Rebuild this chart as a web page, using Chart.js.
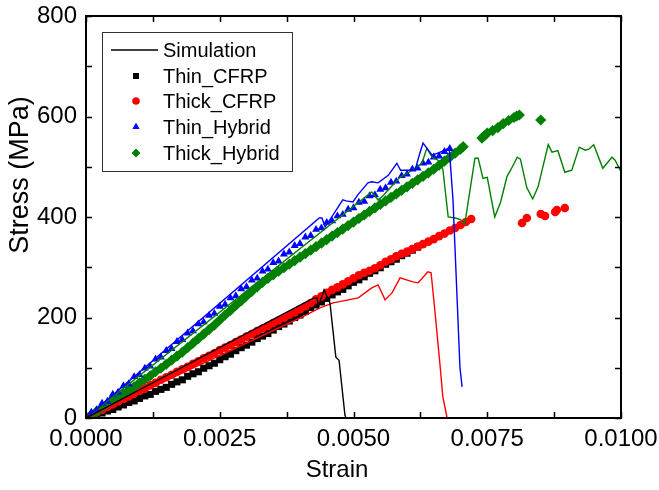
<!DOCTYPE html>
<html>
<head>
<meta charset="utf-8">
<script src="https://cdn.jsdelivr.net/npm/chart.js@4.4.1/dist/chart.umd.min.js"></script>
<style>
  body { margin: 0; background: #fff; }
</style>
</head>
<body>
<canvas id="chart" width="659" height="490"></canvas>
<script>
// axis ticks
const xTicks = [0.0000, 0.0025, 0.0050, 0.0075, 0.0100];
const yTicks = [0, 200, 400, 600, 800];
const legendNames = ["Simulation", "Thin_CFRP", "Thick_CFRP", "Thin_Hybrid", "Thick_Hybrid"];

// simulation curves [strain, stress]
const simThinCfrp = [[0,0],[0.00424,238],[0.00432,239],[0.00434,221],[0.00445,255],[0.00456,229],
  [0.00467,121],[0.00473,115],[0.00484,6],[0.00486,0]];
const simThickCfrp = [[0,0],[0.0040,199],[0.00437,219],[0.00462,229],[0.00509,239],[0.00534,259],
  [0.00546,265],[0.00559,235],[0.00572,249],[0.00587,279],[0.00611,271],[0.00621,269],[0.00639,291],
  [0.00645,289],[0.00652,215],[0.00662,102],[0.00667,42],[0.00675,0]];
const simThinHybrid = [[0,0],[0.00436,398],[0.00441,398],[0.00447,380],[0.0048,434],[0.00486,432],
  [0.00499,430],[0.00508,444],[0.00527,468],[0.00534,470],[0.00546,468],[0.00565,483],[0.00581,507],
  [0.00588,493],[0.00615,493],[0.00624,527],[0.0063,547],[0.00637,537],[0.00647,523],[0.00660,528],
  [0.00679,537],[0.00686,434],[0.00699,100],[0.00703,62]];
const simThickHybrid = [[0,0],[0.00534,450],[0.00546,434],[0.00553,440],[0.00572,462],[0.00587,479],
  [0.00605,490],[0.00628,507],[0.00637,537],[0.00647,519],[0.00658,513],[0.00667,495],[0.00677,400],
  [0.0069,398],[0.0070,395],[0.00708,386],[0.00727,517],[0.00733,517],[0.00742,477],[0.0075,479],
  [0.00764,400],[0.00775,430],[0.00787,481],[0.00797,500],[0.00806,519],[0.00812,515],[0.00824,458],
  [0.00835,436],[0.00845,460],[0.00864,544],[0.00871,529],[0.00882,532],[0.00895,489],[0.00908,493],
  [0.00922,539],[0.00933,533],[0.0094,535],[0.00949,544],[0.00966,497],[0.00983,519],[0.00989,513],
  [0.0100,490]];

// experiments [strain, stress]
const expThinCfrp = [[0,0],[0.0001,3],[0.0002,7],[0.0003,10],[0.0004,14],[0.0005,17],[0.0006,22],[0.0007,26],
  [0.0008,31],[0.0009,34],[0.0010,39],[0.0011,44],[0.0012,47],[0.0013,53],[0.0014,57],[0.0015,61],
  [0.0016,67],[0.0017,72],[0.0018,76],[0.0019,83],[0.0020,88],[0.0021,92],[0.0022,99],[0.0023,104],
  [0.0024,109],[0.0025,116],[0.0026,122],[0.0027,127],[0.0028,134],[0.0029,140],[0.0030,145],
  [0.0031,151],[0.0032,158],[0.0033,163],[0.0034,168],[0.0035,175],[0.0036,182],[0.0037,187],
  [0.0038,193],[0.0039,200],[0.0040,205],[0.0041,212],[0.0042,220],[0.0043,225],[0.0044,231],
  [0.0045,238],[0.0046,245],[0.0047,251],[0.0048,256],[0.0049,263],[0.0050,270],[0.0051,275],
  [0.0052,281],[0.0053,288],[0.0054,293],[0.0055,299],[0.0056,306],[0.0057,311],[0.0058,316],
  [0.0059,323],[0.0060,328],[0.0061,334],[0.0062,340]];
const expThickCfrp = [[0,0],[0.0001,5],[0.0002,11],[0.0003,16],[0.0004,22],[0.0005,27],[0.0006,33],[0.0007,38],
  [0.0008,43],[0.0009,49],[0.0010,54],[0.0011,59],[0.0012,65],[0.0013,70],[0.0014,76],[0.0015,81],
  [0.0016,86],[0.0017,92],[0.0018,97],[0.0019,102],[0.0020,108],[0.0021,113],[0.0022,119],[0.0023,124],
  [0.0024,129],[0.0025,135],[0.0026,140],[0.0027,145],[0.0028,151],[0.0029,156],[0.0030,162],
  [0.0031,167],[0.0032,173],[0.0033,178],[0.0034,183],[0.0035,189],[0.0036,194],[0.0037,199],
  [0.0038,205],[0.0039,210],[0.0040,216],[0.0041,222],[0.0042,229],[0.0043,236],[0.0044,242],
  [0.0045,249],[0.0046,255],[0.0047,260],[0.0048,266],[0.0049,272],[0.0050,278],[0.0051,284],
  [0.0052,289],[0.0053,293],[0.0054,298],[0.0055,304],[0.0056,311],[0.0057,316],[0.0058,322],
  [0.0059,327],[0.0060,331],[0.0061,336],[0.0062,341],[0.0063,346],[0.0064,351],[0.0065,356],
  [0.0066,362],[0.0067,367],[0.0068,373],[0.0069,378],[0.0070,384],[0.0071,390],[0.0072,396],
  [0.00815,388],[0.00824,398],[0.0085,406],[0.00858,402],[0.00877,410],[0.0088,414],[0.00895,418]];
const expThinHybrid = [[0,0],[0.0001,11],[0.0002,16],[0.0003,29],[0.0004,33],[0.0005,47],[0.0006,51],[0.0007,64],
  [0.0008,68],[0.0009,82],[0.0010,86],[0.0011,99],[0.0012,103],[0.0013,117],[0.0014,121],[0.0015,134],
  [0.0016,138],[0.0017,152],[0.0018,156],[0.0019,169],[0.0020,173],[0.0021,187],[0.0022,191],
  [0.0023,204],[0.0024,208],[0.0025,222],[0.0026,226],[0.0027,239],[0.0028,243],[0.0029,257],
  [0.0030,261],[0.0031,274],[0.0032,278],[0.0033,292],[0.0034,296],[0.0035,309],[0.0036,312],
  [0.0037,326],[0.0038,330],[0.0039,343],[0.0040,347],[0.0041,360],[0.0042,363],[0.0043,375],
  [0.0044,378],[0.0045,389],[0.0046,392],[0.0047,402],[0.0048,405],[0.0049,415],[0.0050,418],
  [0.0051,429],[0.0052,431],[0.0053,442],[0.0054,444],[0.0055,455],[0.0056,458],[0.0057,469],
  [0.0058,471],[0.0059,482],[0.0060,485],[0.0061,495],[0.0062,497],[0.0063,507],[0.0064,509],
  [0.0065,519],[0.0066,521],[0.0067,530],[0.0068,536]];
const expThickHybrid = [[0,0],[0.0001,6],[0.0002,13],[0.0003,20],[0.0004,27],[0.0005,34],[0.0006,41],[0.0007,48],
  [0.0008,55],[0.0009,62],[0.0010,70],[0.0011,77],[0.0012,84],[0.0013,92],[0.0014,99],[0.0015,107],
  [0.0016,115],[0.0017,123],[0.0018,131],[0.0019,140],[0.0020,149],[0.0021,158],[0.0022,167],
  [0.0023,176],[0.0024,185],[0.0025,195],[0.0026,205],[0.0027,214],[0.0028,224],[0.0029,233],
  [0.0030,243],[0.0031,252],[0.0032,261],[0.0033,270],[0.0034,278],[0.0035,285],[0.0036,292],
  [0.0037,299],[0.0038,306],[0.0039,313],[0.0040,320],[0.0041,327],[0.0042,334],[0.0043,341],
  [0.0044,348],[0.0045,355],[0.0046,362],[0.0047,369],[0.0048,376],[0.0049,383],[0.0050,390],
  [0.0051,397],[0.0052,404],[0.0053,411],[0.0054,418],[0.0055,425],[0.0056,432],[0.0057,439],
  [0.0058,446],[0.0059,453],[0.0060,460],[0.0061,467],[0.0062,474],[0.0063,481],[0.0064,488],
  [0.0065,495],[0.0066,503],[0.0067,511],[0.0068,519],[0.0069,527],[0.0070,535],[0.00705,540],
  [0.0074,557],[0.00745,562],[0.0075,567],[0.0076,572],[0.0077,578],[0.0078,586],[0.0079,592],
  [0.0080,598],[0.00805,601],[0.0081,603],[0.0085,593]];

const FONT = "'Liberation Sans', Arial, sans-serif";
const toXY = arr => arr.map(p => ({x: p[0], y: p[1]}));

function simLine(pts, color, order) {
  return {label: "sim", data: toXY(pts), showLine: true, borderColor: color, borderWidth: 1.4,
    pointRadius: 0, fill: false, tension: 0, order: order};
}
function markers(name, pts, color, style, r, order) {
  return {label: name, data: toXY(pts), showLine: false, pointStyle: style, pointRadius: r,
    backgroundColor: color, borderColor: color, borderWidth: 0, order: order};
}

const datasets = [
  simLine(simThinCfrp, "#000000", 1),
  simLine(simThickCfrp, "#ff0000", 1),
  simLine(simThinHybrid, "#0000ff", 1),
  simLine(simThickHybrid, "#008000", 1),
  markers(legendNames[1], expThinCfrp, "#000000", "rect", 5, 6),
  markers(legendNames[2], expThickCfrp, "#ff0000", "circle", 4.3, 5),
  markers(legendNames[3], expThinHybrid, "#0000ff", "triangle", 4.6, 3),
  markers(legendNames[4], expThickHybrid, "#008000", "rectRot", 5.6, 4)
];
// marker sizes in the legend box
const legendRadius = [0, 4, 3.6, 4, 4.2];

// box, inward ticks, legend and axis titles
const decor = {
  id: "decor",
  afterDraw(chart) {
    const ctx = chart.ctx, a = chart.chartArea;
    const xs = chart.scales.x, ys = chart.scales.y;
    ctx.save();
    ctx.strokeStyle = "#000";
    ctx.lineWidth = 1.5;
    for (let v = 0; v <= 0.01 + 1e-9; v += 0.00125) {
      const px = Math.round(xs.getPixelForValue(v)) + 0.5;
      ctx.beginPath();
      ctx.moveTo(px, a.bottom); ctx.lineTo(px, a.bottom - 6);
      ctx.moveTo(px, a.top); ctx.lineTo(px, a.top + 6);
      ctx.stroke();
    }
    for (let v = 0; v <= 800; v += 100) {
      const py = Math.round(ys.getPixelForValue(v)) + 0.5;
      ctx.beginPath();
      ctx.moveTo(a.left, py); ctx.lineTo(a.left + 6, py);
      ctx.moveTo(a.right, py); ctx.lineTo(a.right - 6, py);
      ctx.stroke();
    }
    ctx.lineWidth = 2;
    ctx.strokeRect(a.left, a.top, a.right - a.left, a.bottom - a.top);

    // legend
    ctx.fillStyle = "#fff";
    ctx.fillRect(102, 32, 191, 140);
    ctx.lineWidth = 1;
    ctx.strokeStyle = "#333";
    ctx.strokeRect(102.5, 32.5, 190, 139);
    const rows = [50, 76, 101, 127, 153];
    ctx.strokeStyle = "#000";
    ctx.lineWidth = 1.4;
    ctx.beginPath();
    ctx.moveTo(111, rows[0]); ctx.lineTo(158, rows[0]);
    ctx.stroke();
    for (let i = 1; i < 5; i++) {
      const d = datasets[i + 3];
      ctx.fillStyle = d.backgroundColor;
      Chart.helpers.drawPoint(ctx, {pointStyle: d.pointStyle, radius: legendRadius[i], borderWidth: 0}, 136, rows[i]);
      ctx.fill();
    }
    ctx.fillStyle = "#000";
    ctx.font = "20px " + FONT;
    ctx.textAlign = "left";
    ctx.textBaseline = "middle";
    legendNames.forEach((n, i) => ctx.fillText(n, 163, rows[i] + 1));

    // axis titles
    ctx.font = "24px " + FONT;
    ctx.textAlign = "center";
    ctx.fillText("Strain", 337, 470);
    ctx.font = "27px " + FONT;
    ctx.translate(21, 175);
    ctx.rotate(-Math.PI / 2);
    ctx.fillText("Stress (MPa)", 0, 0);
    ctx.restore();
  }
};

new Chart(document.getElementById("chart").getContext("2d"), {
  type: "scatter",
  data: {datasets: datasets},
  options: {
    responsive: false,
    animation: false,
    devicePixelRatio: 1,
    layout: {padding: {top: 16, right: 38, left: 0, bottom: 0}},
    plugins: {legend: {display: false}, tooltip: {enabled: false}},
    scales: {
      x: {
        type: "linear", min: 0, max: 0.01,
        grid: {display: false, drawTicks: false},
        border: {display: false},
        afterFit: s => { s.height = 72; s.paddingLeft = 0; s.paddingRight = 0; },
        ticks: {
          stepSize: 0.00125, autoSkip: false, maxRotation: 0, padding: 7,
          color: "#000", font: {size: 24, family: FONT},
          callback: v => {
            const t = xTicks.find(k => Math.abs(k - v) < 1e-7);
            return t === undefined ? "" : t.toFixed(4);
          }
        }
      },
      y: {
        type: "linear", min: 0, max: 800,
        grid: {display: false, drawTicks: false},
        border: {display: false},
        afterFit: s => { s.width = 86; s.paddingTop = 0; s.paddingBottom = 0; },
        ticks: {
          stepSize: 100, autoSkip: false, padding: 9,
          color: "#000", font: {size: 24, family: FONT},
          callback: v => yTicks.includes(v) ? String(v) : ""
        }
      }
    }
  },
  plugins: [decor]
});
</script>
</body>
</html>
